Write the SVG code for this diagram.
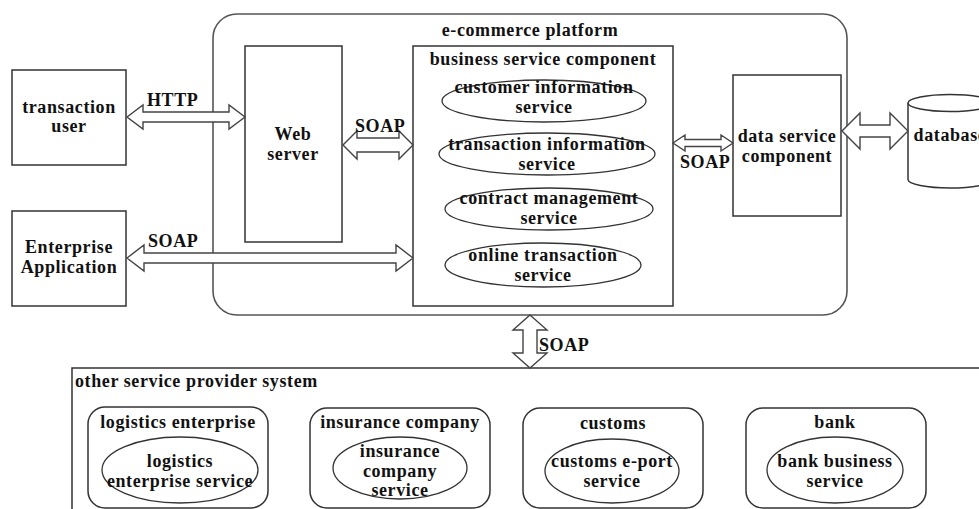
<svg xmlns="http://www.w3.org/2000/svg" width="979" height="509" viewBox="0 0 979 509">
  <style>
    .box { fill: #fff; stroke: #333; stroke-width: 1.5; }
    .plat { fill: #fff; stroke: #555; stroke-width: 1.6; }
    .ell { fill: none; stroke: #333; stroke-width: 1.3; }
    .arrow { fill: #fff; stroke: #444; stroke-width: 1.4; stroke-linejoin: miter; }
    text { font-family: "Liberation Serif", "Times New Roman", serif; font-weight: bold; font-size: 18px; letter-spacing: 0.6px; fill: #111; text-anchor: middle; }
    .lbl { text-anchor: start; }
  </style>
  <rect width="979" height="509" fill="#fff"/>

  <!-- e-commerce platform container -->
  <g id="platform">
    <rect class="plat" x="213" y="14" width="634" height="301" rx="24" ry="24"/>
    <text x="530" y="36">e-commerce platform</text>
  </g>

  <g id="transaction-user">
    <rect class="box" x="12" y="70" width="114" height="95"/>
    <text x="69" y="113">transaction</text>
    <text x="69" y="132">user</text>
  </g>

  <g id="enterprise-application">
    <rect class="box" x="12" y="211" width="114" height="95"/>
    <text x="69" y="253">Enterprise</text>
    <text x="69" y="273">Application</text>
  </g>

  <g id="web-server">
    <rect class="box" x="245" y="46" width="97" height="196"/>
    <text x="293" y="140">Web</text>
    <text x="293" y="160">server</text>
  </g>

  <g id="business-service-component">
    <rect class="box" x="413" y="46" width="260" height="260"/>
    <text x="543" y="65">business service component</text>
    <g id="customer-information-service">
      <ellipse class="ell" cx="544" cy="101" rx="102" ry="21"/>
      <text x="544" y="93">customer information</text>
      <text x="544" y="113">service</text>
    </g>
    <g id="transaction-information-service">
      <ellipse class="ell" cx="547" cy="154" rx="108" ry="21"/>
      <text x="547" y="150">transaction information</text>
      <text x="547" y="170">service</text>
    </g>
    <g id="contract-management-service">
      <ellipse class="ell" cx="549" cy="209" rx="104" ry="21"/>
      <text x="549" y="204">contract management</text>
      <text x="549" y="224">service</text>
    </g>
    <g id="online-transaction-service">
      <ellipse class="ell" cx="543" cy="265" rx="98" ry="22"/>
      <text x="543" y="261">online transaction</text>
      <text x="543" y="281">service</text>
    </g>
  </g>

  <g id="data-service-component">
    <rect class="box" x="733" y="75" width="108" height="141"/>
    <text x="787" y="142">data service</text>
    <text x="787" y="162">component</text>
  </g>

  <g id="database">
    <path class="box" d="M908,103 L908,179.5 A42,8.5 0 0 0 992,179.5 L992,103"/>
    <ellipse class="box" cx="950" cy="103" rx="42" ry="8.5"/>
    <text x="950" y="141">database</text>
  </g>

  <!-- other service provider system -->
  <g id="other-service-provider-system">
    <rect class="box" x="72" y="368" width="920" height="160"/>
    <text class="lbl" x="75" y="387">other service provider system</text>
  </g>

  <g id="logistics-enterprise">
    <rect class="box" x="88" y="407" width="180" height="101" rx="17" ry="17"/>
    <text x="178" y="428">logistics enterprise</text>
    <ellipse class="ell" cx="180" cy="470" rx="78" ry="33"/>
    <text x="180" y="467">logistics</text>
    <text x="180" y="487">enterprise service</text>
  </g>

  <g id="insurance-company">
    <rect class="box" x="310" y="408" width="180" height="100" rx="17" ry="17"/>
    <text x="400" y="428">insurance company</text>
    <ellipse class="ell" cx="400" cy="468" rx="67" ry="31"/>
    <text x="400" y="457">insurance</text>
    <text x="400" y="477">company</text>
    <text x="400" y="496">service</text>
  </g>

  <g id="customs">
    <rect class="box" x="523" y="408" width="180" height="100" rx="17" ry="17"/>
    <text x="613" y="429">customs</text>
    <ellipse class="ell" cx="612" cy="471" rx="67" ry="32"/>
    <text x="612" y="467">customs e-port</text>
    <text x="612" y="487">service</text>
  </g>

  <g id="bank">
    <rect class="box" x="746" y="408" width="180" height="100" rx="17" ry="17"/>
    <text x="835" y="428">bank</text>
    <ellipse class="ell" cx="835" cy="470" rx="68" ry="33"/>
    <text x="835" y="467">bank business</text>
    <text x="835" y="487">service</text>
  </g>

  <!-- connectors: hollow double-headed arrows -->
  <g id="connectors">
    <!-- transaction user <-> web server -->
    <polygon class="arrow" points="127,117 143,105 143,112 229,112 229,105 245,117 229,129 229,122 143,122 143,129"/>
    <text class="lbl" x="147" y="106">HTTP</text>
    <!-- web server <-> business service component -->
    <polygon class="arrow" points="343,145 357,131 357,138 399,138 399,131 413,145 399,159 399,152 357,152 357,159"/>
    <text class="lbl" x="355" y="132">SOAP</text>
    <!-- enterprise application <-> business service component -->
    <polygon class="arrow" points="127,258 144,245 144,253 396,253 396,245 413,258 396,271 396,263 144,263 144,271"/>
    <text class="lbl" x="148" y="247">SOAP</text>
    <!-- business service component <-> data service component -->
    <polygon class="arrow" points="673,143 685,135 685,139.5 721,139.5 721,135 733,143 721,151 721,146.5 685,146.5 685,151"/>
    <text class="lbl" x="680" y="168">SOAP</text>
    <!-- data service component <-> database -->
    <polygon class="arrow" points="842,131 860,113 860,125 890,125 890,113 908,131 890,149 890,137 860,137 860,149"/>
    <!-- platform <-> other service provider system -->
    <polygon class="arrow" points="530,315 547,330 537,330 537,353 547,353 530,368 513,353 523,353 523,330 513,330"/>
    <text class="lbl" x="539" y="351">SOAP</text>
  </g>
</svg>
